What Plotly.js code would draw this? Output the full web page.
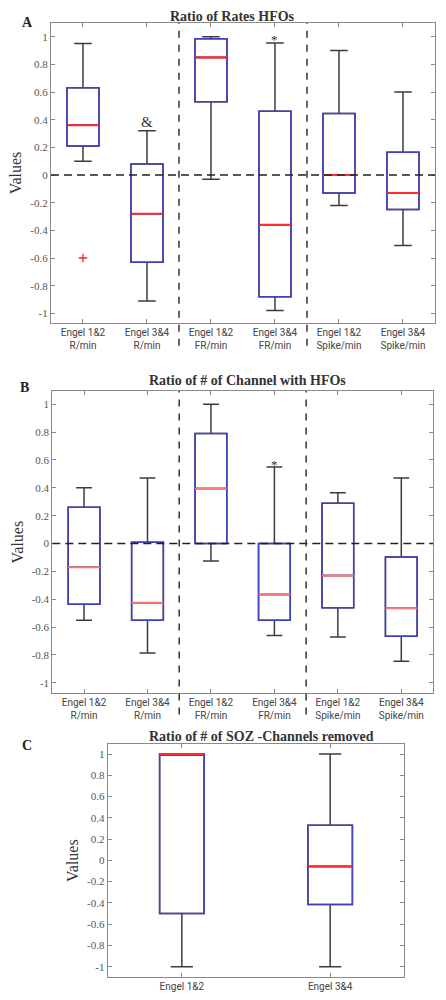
<!DOCTYPE html>
<html>
<head>
<meta charset="utf-8">
<script src="https://cdn.plot.ly/plotly-3.0.1.min.js"></script>
<style>html,body{margin:0;padding:0;background:#fff;}#chart{width:446px;height:1000px;}</style>
</head>
<body>
<div id="chart"></div>
<script>
// ---- data ----
const categoriesAB = ['Engel 1&2<br>R/min', 'Engel 3&4<br>R/min', 'Engel 1&2<br>FR/min', 'Engel 3&4<br>FR/min', 'Engel 1&2<br>Spike/min', 'Engel 3&4<br>Spike/min'];
const categoriesC = ['Engel 1&2', 'Engel 3&4'];

// Panel A: Ratio of Rates HFOs
const aLower  = [0.10, -0.91, -0.03, -0.98, -0.22, -0.51];
const aQ1     = [0.21, -0.63, 0.53, -0.88, -0.13, -0.25];
const aMedian = [0.36, -0.28, 0.85, -0.36, 0.00, -0.13];
const aQ3     = [0.63, 0.08, 0.985, 0.46, 0.445, 0.165];
const aUpper  = [0.95, 0.32, 1.00, 0.955, 0.90, 0.60];
const aOutlierCat = ['Engel 1&2<br>R/min'];
const aOutlierVal = [-0.60];

// Panel B: Ratio of # of Channel with HFOs
const bLower  = [-0.55, -0.785, -0.125, -0.66, -0.67, -0.845];
const bQ1     = [-0.435, -0.55, 0.00, -0.55, -0.46, -0.665];
const bMedian = [-0.17, -0.425, 0.395, -0.365, -0.23, -0.465];
const bQ3     = [0.26, 0.01, 0.79, 0.00, 0.29, -0.097];
const bUpper  = [0.40, 0.47, 1.00, 0.55, 0.365, 0.47];

// Panel C: Ratio of # of SOZ -Channels removed
const cLower  = [-1.00, -1.00];
const cQ1     = [-0.50, -0.415];
const cMedian = [1.00, -0.057];
const cQ3     = [1.00, 0.33];
const cUpper  = [1.00, 1.00];

const yTickVals = [-1, -0.8, -0.6, -0.4, -0.2, 0, 0.2, 0.4, 0.6, 0.8, 1];
const yTickText = ['-1', '-0.8', '-0.6', '-0.4', '-0.2', '0', '0.2', '0.4', '0.6', '0.8', '1'];

// ---- styles ----
const BLUE = '#4040c0', GRAY = '#3c3c3c';
const SERIF = 'Liberation Serif, Times New Roman, serif';
const SANS = 'Liberation Sans Narrow, Roboto, Liberation Sans, sans-serif';

// three layers: whiskers (gray), box outline (blue), median (red, slightly wider to cover)
function boxLayers(cats, lo, q1, med, q3, hi, xa, ya, width, ww, medColor) {
  const base = {type: 'box', x: cats, xaxis: xa, yaxis: ya, width: width, whiskerwidth: ww,
    boxpoints: false, fillcolor: 'rgba(0,0,0,0)', showlegend: false, hoverinfo: 'skip'};
  return [
    Object.assign({}, base, {q1: q1, median: med, q3: q3, lowerfence: lo, upperfence: hi,
      line: {color: GRAY, width: 1.5}}),
    Object.assign({}, base, {q1: q1, median: med, q3: q3, lowerfence: q1, upperfence: q3,
      line: {color: BLUE, width: 1.5}}),
    Object.assign({}, base, {q1: med, median: med, q3: med, lowerfence: med, upperfence: med,
      whiskerwidth: 0, line: {color: medColor, width: 2.1}})
  ];
}

const data = [].concat(
  boxLayers(categoriesAB, aLower, aQ1, aMedian, aQ3, aUpper, 'x', 'y', 0.5, 0.55, '#ff2a2a'),
  [{type: 'scatter', mode: 'markers', x: aOutlierCat, y: aOutlierVal, xaxis: 'x', yaxis: 'y',
    marker: {symbol: 'cross-thin', size: 6, line: {color: '#ff2020', width: 1.3}}, showlegend: false, hoverinfo: 'skip'}],
  boxLayers(categoriesAB, bLower, bQ1, bMedian, bQ3, bUpper, 'x2', 'y2', 0.5, 0.5, '#f47878'),
  boxLayers(categoriesC, cLower, cQ1, cMedian, cQ3, cUpper, 'x3', 'y3', 0.3, 0.5, '#ff2a2a')
);

function xAxis(domain, anchor, nCats) {
  return {domain: domain, anchor: anchor, type: 'category', range: [-0.5, nCats - 0.5],
    showline: true, linecolor: '#8a8a8a', linewidth: 1, mirror: 'ticks', ticks: 'inside', ticklen: 4,
    tickcolor: '#8a8a8a', showgrid: false, zeroline: false, fixedrange: true,
    tickfont: {family: SANS, size: 10, color: '#444'}};
}
function yAxis(domain, anchor, range) {
  return {domain: domain, anchor: anchor, range: range, tickvals: yTickVals, ticktext: yTickText,
    showline: true, linecolor: '#8a8a8a', linewidth: 1, mirror: 'ticks', ticks: 'inside', ticklen: 4,
    tickcolor: '#8a8a8a', showgrid: false, zeroline: false, fixedrange: true,
    tickfont: {family: SERIF, size: 11, color: '#555'},
    title: {text: 'Values', font: {family: SERIF, size: 16, color: '#333'}, standoff: 4}};
}

const dashV = {color: '#333', width: 1.5, dash: '7px,7px'};
const layout = {
  width: 446, height: 1000, margin: {l: 0, r: 0, t: 0, b: 0},
  paper_bgcolor: '#fff', plot_bgcolor: 'rgba(0,0,0,0)', boxmode: 'overlay', showlegend: false,
  xaxis: xAxis([0.1143, 0.9753], 'y', 6),
  yaxis: yAxis([0.6767, 0.9773], 'x', [-1.072, 1.101]),
  xaxis2: xAxis([0.1173, 0.9709], 'y2', 6),
  yaxis2: yAxis([0.3067, 0.609], 'x2', [-1.075, 1.095]),
  xaxis3: xAxis([0.2415, 0.9065], 'y3', 2),
  yaxis3: yAxis([0.0227, 0.256], 'x3', [-1.1, 1.094]),
  shapes: [
    {type: 'line', xref: 'x domain', yref: 'y', x0: 0, x1: 1, y0: 0, y1: 0, line: {color: '#222', width: 1.5, dash: '8px,5px'}},
    {type: 'line', xref: 'x', yref: 'y domain', x0: 1.5, x1: 1.5, y0: -0.075, y1: 1, line: dashV},
    {type: 'line', xref: 'x', yref: 'y domain', x0: 3.5, x1: 3.5, y0: -0.075, y1: 1, line: dashV},
    {type: 'line', xref: 'x2 domain', yref: 'y2', x0: 0, x1: 1, y0: 0, y1: 0, line: {color: '#222', width: 1.5, dash: '8px,5px'}},
    {type: 'line', xref: 'x2', yref: 'y2 domain', x0: 1.5, x1: 1.5, y0: -0.07, y1: 1, line: dashV},
    {type: 'line', xref: 'x2', yref: 'y2 domain', x0: 3.5, x1: 3.5, y0: -0.07, y1: 1, line: dashV}
  ],
  annotations: [
    {text: '<b>Ratio of Rates HFOs</b>', xref: 'paper', yref: 'paper', x: 233/446, y: 1 - 16.5/1000, showarrow: false, xanchor: 'center', yanchor: 'middle', font: {family: SERIF, size: 14, color: '#333'}},
    {text: '<b>Ratio of # of Channel with HFOs</b>', xref: 'paper', yref: 'paper', x: 247/446, y: 1 - 380/1000, showarrow: false, xanchor: 'center', yanchor: 'middle', font: {family: SERIF, size: 14, color: '#333'}},
    {text: '<b>Ratio of # of SOZ -Channels removed</b>', xref: 'paper', yref: 'paper', x: 261/446, y: 1 - 736.5/1000, showarrow: false, xanchor: 'center', yanchor: 'middle', font: {family: SERIF, size: 14, color: '#333'}},
    {text: '<b>A</b>', xref: 'paper', yref: 'paper', x: 27/446, y: 1 - 22/1000, showarrow: false, xanchor: 'center', yanchor: 'middle', font: {family: SERIF, size: 14, color: '#222'}},
    {text: '<b>B</b>', xref: 'paper', yref: 'paper', x: 24/446, y: 1 - 387/1000, showarrow: false, xanchor: 'center', yanchor: 'middle', font: {family: SERIF, size: 14, color: '#222'}},
    {text: '<b>C</b>', xref: 'paper', yref: 'paper', x: 27/446, y: 1 - 745.5/1000, showarrow: false, xanchor: 'center', yanchor: 'middle', font: {family: SERIF, size: 14, color: '#222'}},
    {text: '&', xref: 'x', yref: 'y', x: 1, y: 0.38, showarrow: false, yanchor: 'middle', font: {family: SERIF, size: 15, color: '#333'}},
    {text: '*', xref: 'x', yref: 'y', x: 3, y: 0.98, showarrow: false, yanchor: 'middle', font: {family: SERIF, size: 13, color: '#333'}},
    {text: '*', xref: 'x2', yref: 'y2', x: 3, y: 0.57, showarrow: false, yanchor: 'middle', font: {family: SERIF, size: 13, color: '#333'}}
  ]
};

Plotly.newPlot('chart', data, layout, {staticPlot: true, displayModeBar: false});
</script>
</body>
</html>
